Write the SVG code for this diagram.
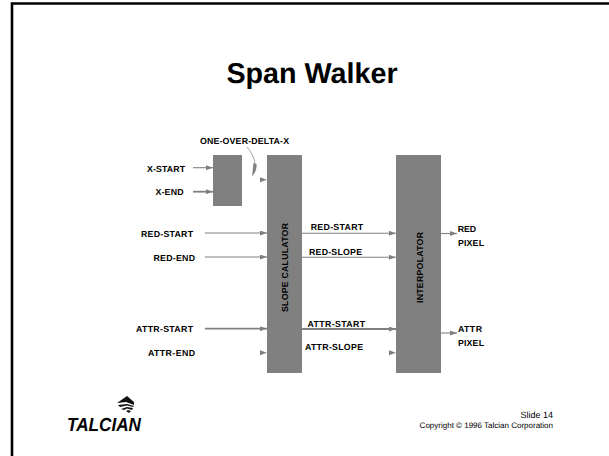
<svg xmlns="http://www.w3.org/2000/svg" width="609" height="456" viewBox="0 0 609 456">
<style>
text{font-family:"Liberation Sans",Arial,sans-serif;fill:#000;text-rendering:geometricPrecision}
.l{font-size:8.800px;font-weight:bold}
.b{fill:#808080}
.c{stroke:#808080;fill:none;stroke-width:1.100}
.t{stroke-width:1.800}
.h{fill:#808080}
</style>
<defs>
<marker id="a" markerUnits="userSpaceOnUse" markerWidth="7" markerHeight="5" refX="7" refY="2.500" orient="auto"><path d="M0 0L7 2.500L0 5Z" fill="#808080"/></marker>
</defs>
<rect width="609" height="456" fill="#fff"/>
<path d="M12 456V3.500H609" fill="none" stroke="#000" stroke-width="2.600"/>
<text x="312" y="83" font-size="28.700" font-weight="bold" text-anchor="middle">Span Walker</text>
<g id="one-over-delta-x"><text class="l" x="200" y="144" textLength="89">ONE-OVER-DELTA-X</text></g>
<g id="x-box"><rect class="b" x="213" y="155" width="29" height="51"/></g>
<g id="slope-calculator"><rect class="b" x="267" y="155" width="35" height="218"/><text class="l" transform="translate(288,312) rotate(-90)" textLength="89">SLOPE CALULATOR</text></g>
<g id="interpolator"><rect class="b" x="396" y="155" width="45" height="218"/><text class="l" transform="translate(423,303) rotate(-90)" textLength="71">INTERPOLATOR</text></g>
<g id="connectors">
<path class="c" d="M193 167.700H213" marker-end="url(#a)"/>
<path class="c t" d="M193 191.700H213" marker-end="url(#a)"/>
<path class="c" d="M205 233H267" marker-end="url(#a)"/>
<path class="c" d="M205 257H267" marker-end="url(#a)"/>
<path class="c t" d="M205 328.700H267" marker-end="url(#a)"/>
<path class="h" d="M260 350.200L267 352.700L260 355.200Z"/>
<path class="h" d="M260 177.200L267 179.700L260 182.200Z"/>
<path d="M247 147C252 153 255 159 255 166" fill="none" stroke="#999" stroke-width="0.900"/>
<path d="M253.500 163L256.500 164C257 169 255 173 252 176.500Z" fill="#808080"/>
<path class="c" d="M302 233.300H396" marker-end="url(#a)"/>
<path class="c" d="M302 257.300H396" marker-end="url(#a)"/>
<path class="c t" d="M302 329H396" marker-end="url(#a)"/>
<path class="h" d="M389 350.200L396 352.700L389 355.200Z"/>
<path class="c" d="M441 233.500H457" marker-end="url(#a)"/>
<path class="c" d="M441 333H457" marker-end="url(#a)"/>
</g>
<g id="x-start"><text class="l" x="147" y="172" textLength="38">X-START</text></g>
<g id="x-end"><text class="l" x="155.500" y="195" textLength="28">X-END</text></g>
<g id="red-start"><text class="l" x="141" y="236.700" textLength="52">RED-START</text></g>
<g id="red-end"><text class="l" x="153.500" y="260.700" textLength="41.500">RED-END</text></g>
<g id="attr-start"><text class="l" x="136" y="332" textLength="57">ATTR-START</text></g>
<g id="attr-end"><text class="l" x="148" y="355.700" textLength="47">ATTR-END</text></g>
<g id="red-start-out"><text class="l" x="310.700" y="230.300" textLength="52.500">RED-START</text></g>
<g id="red-slope"><text class="l" x="309" y="255" textLength="53">RED-SLOPE</text></g>
<g id="attr-start-out"><text class="l" x="307.500" y="326.700" textLength="57.500">ATTR-START</text></g>
<g id="attr-slope"><text class="l" x="305" y="350" textLength="58">ATTR-SLOPE</text></g>
<g id="red-pixel"><text class="l" x="457.700" y="232" textLength="18.500">RED</text><text class="l" x="458" y="246" textLength="26">PIXEL</text></g>
<g id="attr-pixel"><text class="l" x="458" y="332" textLength="24">ATTR</text><text class="l" x="458" y="346" textLength="26">PIXEL</text></g>
<g id="logo">
<path d="M117 403L127 396L134 402L134 405L126 402Z" fill="#111"/>
<path d="M118 405L127 404L134 406L133 407L127 405.500L120 407ZM121 409L127 407L133 408L132 410L127 408.500L124 410ZM126 411L128 410L131 411L129 413Z" fill="#111"/>
<text x="67" y="431" font-size="19" font-weight="bold" font-style="italic" textLength="74" lengthAdjust="spacingAndGlyphs">TALCIAN</text>
</g>
<text x="553" y="418" font-size="9" text-anchor="end">Slide 14</text>
<text x="553" y="428" font-size="8" text-anchor="end">Copyright © 1996 Talcian Corporation</text>
</svg>
